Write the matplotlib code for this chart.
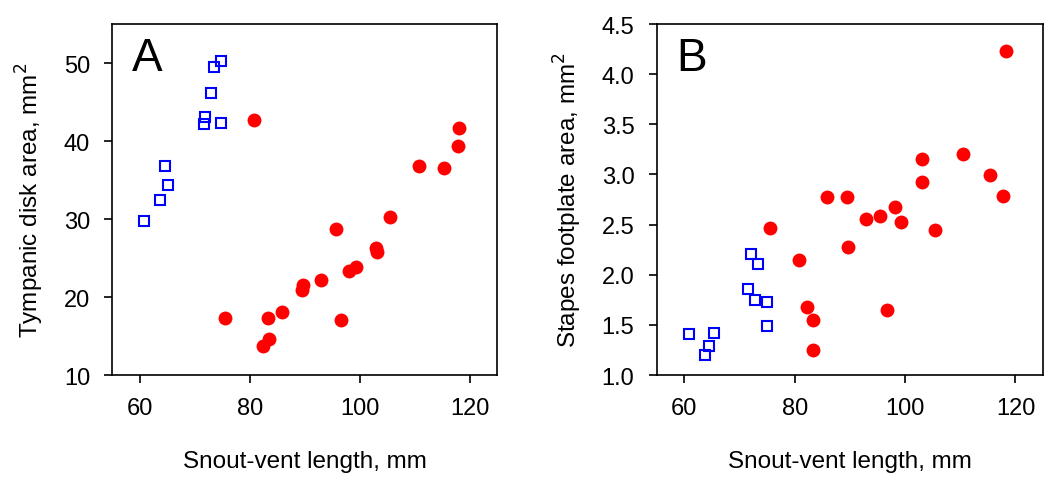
import matplotlib
matplotlib.use("Agg")
import matplotlib.pyplot as plt

plt.rcParams['font.family'] = ['Liberation Sans', 'DejaVu Sans']

# Panel A: tympanic disk area vs snout-vent length
a_blue_svl = [74.8, 73.4, 72.9, 71.9, 71.6, 74.8, 64.5, 65.2, 63.7, 60.8]
a_blue_area = [50.2, 49.5, 46.1, 43.1, 42.2, 42.3, 36.8, 34.3, 32.5, 29.7]
a_red_svl = [80.7, 118.1, 117.8, 110.7, 115.3, 105.4, 95.6, 102.9, 103.1, 99.3,
             98.1, 93.0, 89.6, 89.4, 85.8, 83.3, 75.5, 96.6, 83.4, 82.3]
a_red_area = [42.7, 41.7, 39.4, 36.8, 36.5, 30.3, 28.7, 26.3, 25.8, 23.8,
              23.4, 22.2, 21.6, 20.9, 18.1, 17.3, 17.3, 17.1, 14.6, 13.7]

# Panel B: stapes footplate area vs snout-vent length
b_blue_svl = [72.1, 73.4, 71.6, 72.9, 74.9, 74.9, 60.9, 65.3, 64.5, 63.7]
b_blue_area = [2.21, 2.11, 1.86, 1.75, 1.73, 1.49, 1.41, 1.42, 1.29, 1.20]
b_red_svl = [118.2, 110.5, 103.1, 115.3, 103.0, 117.7, 85.9, 89.5, 98.2, 93.0,
             95.5, 99.3, 75.6, 105.4, 89.7, 80.8, 82.3, 96.7, 83.3, 83.3]
b_red_area = [4.23, 3.20, 3.15, 2.99, 2.92, 2.79, 2.78, 2.78, 2.68, 2.56,
              2.59, 2.53, 2.47, 2.45, 2.28, 2.15, 1.68, 1.65, 1.55, 1.25]

x_ticks = [60, 80, 100, 120]
a_yticks = [10, 20, 30, 40, 50]
b_yticks = [1.0, 1.5, 2.0, 2.5, 3.0, 3.5, 4.0, 4.5]

fig = plt.figure(figsize=(10.5, 4.85), dpi=100)
ax_a = fig.add_axes([0.107, 0.2247, 0.3667, 0.7237])
ax_b = fig.add_axes([0.6254, 0.2247, 0.368, 0.7237])


def style_panel(ax, blue_x, blue_y, red_x, red_y, yticks, ylim, ylabel, letter, yfmt):
    ax.plot(blue_x, blue_y, 's', ms=7, mfc='none', mec='#0000ff', mew=1.5)
    ax.plot(red_x, red_y, 'o', ms=10, mfc='#ff0000', mec='none')
    ax.set_xlim(55, 125)
    ax.set_ylim(*ylim)
    ax.set_xticks(x_ticks)
    ax.set_yticks(yticks)
    ax.set_yticklabels([yfmt.format(v) for v in yticks])
    ax.tick_params(direction='out', length=6, width=1.2, labelsize=17, top=False, right=False)
    ax.tick_params(axis='x', pad=10)
    ax.tick_params(axis='y', pad=10)
    for s in ax.spines.values():
        s.set_linewidth(1.2)
    ax.set_xlabel('Snout-vent length, mm', fontsize=17.5, labelpad=22)
    ax.set_ylabel(ylabel, fontsize=17.5, labelpad=13)
    ax.text(0.05, 0.965, letter, transform=ax.transAxes, fontsize=33, va='top', ha='left')


style_panel(ax_a, a_blue_svl, a_blue_area, a_red_svl, a_red_area, a_yticks, (10, 55),
            'Tympanic disk area, mm$^2$', 'A', '{:.0f}')
style_panel(ax_b, b_blue_svl, b_blue_area, b_red_svl, b_red_area, b_yticks, (1.0, 4.5),
            'Stapes footplate area, mm$^2$', 'B', '{:.1f}')

fig.savefig('out.png', dpi=100)
